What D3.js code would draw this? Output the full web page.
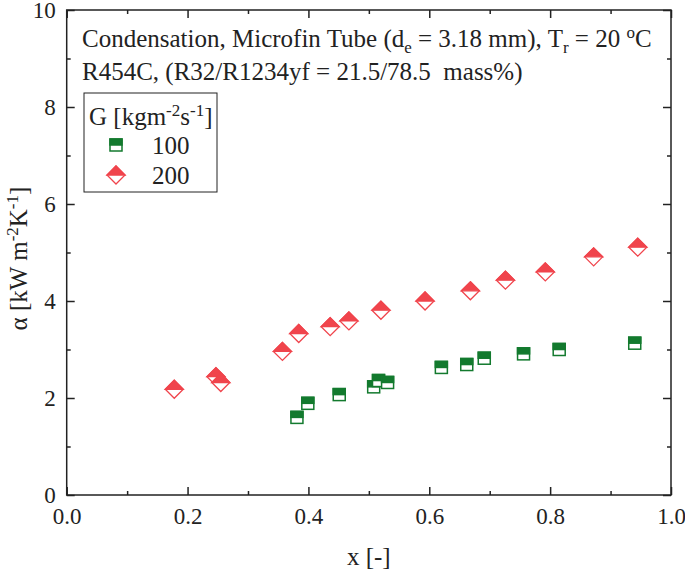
<!DOCTYPE html>
<html>
<head>
<meta charset="utf-8">
<script src="https://cdn.jsdelivr.net/npm/d3@7"></script>
<style>
  body { margin: 0; background: #fff; }
  text { font-family: "Liberation Serif", "Times New Roman", serif; fill: #222; }
</style>
</head>
<body>
<svg id="chart" width="685" height="570"></svg>
<script>
// data
const g100x = [0.381, 0.399, 0.451, 0.508, 0.516, 0.531, 0.620, 0.662, 0.691, 0.756, 0.815, 0.940];
const g100y = [1.60, 1.89, 2.07, 2.23, 2.36, 2.32, 2.63, 2.69, 2.82, 2.91, 3.00, 3.13];
const g200x = [0.178, 0.247, 0.255, 0.357, 0.384, 0.436, 0.467, 0.520, 0.593, 0.668, 0.726, 0.792, 0.872, 0.945];
const g200y = [2.18, 2.44, 2.32, 2.96, 3.33, 3.47, 3.59, 3.81, 4.00, 4.21, 4.43, 4.60, 4.91, 5.11];
const xTicks = [0, 0.2, 0.4, 0.6, 0.8, 1.0];
const yTicks = [0, 2, 4, 6, 8, 10];

const green = "#137a2e", red = "#f0444c";
const pLeft = 66.7, pRight = 671, pTop = 10, pBottom = 495;

const svg = d3.select("#chart");
const x = d3.scaleLinear().domain([0, 1]).range([pLeft, pRight]);
const y = d3.scaleLinear().domain([0, 10]).range([pBottom, pTop]);

// ticks, all pointing inward
const minorX = [0.1, 0.3, 0.5, 0.7, 0.9], minorY = [1, 3, 5, 7, 9];
const fmtX = d3.format(".1f");

svg.append("g").attr("transform", `translate(0,${pBottom})`)
  .call(d3.axisBottom(x).tickValues(xTicks).tickFormat(fmtX).tickSizeInner(-8).tickSizeOuter(0).tickPadding(13));
svg.append("g").attr("transform", `translate(0,${pBottom})`)
  .call(d3.axisBottom(x).tickValues(minorX).tickFormat("").tickSizeInner(-4).tickSizeOuter(0));
svg.append("g").attr("transform", `translate(0,${pTop})`)
  .call(d3.axisTop(x).tickValues(xTicks).tickFormat("").tickSizeInner(-8).tickSizeOuter(0));
svg.append("g").attr("transform", `translate(0,${pTop})`)
  .call(d3.axisTop(x).tickValues(minorX).tickFormat("").tickSizeInner(-4).tickSizeOuter(0));
svg.append("g").attr("transform", `translate(${pLeft},0)`)
  .call(d3.axisLeft(y).tickValues(yTicks).tickSizeInner(-8).tickSizeOuter(0).tickPadding(11));
svg.append("g").attr("transform", `translate(${pLeft},0)`)
  .call(d3.axisLeft(y).tickValues(minorY).tickFormat("").tickSizeInner(-4).tickSizeOuter(0));
svg.append("g").attr("transform", `translate(${pRight},0)`)
  .call(d3.axisRight(y).tickValues(yTicks).tickFormat("").tickSizeInner(-8).tickSizeOuter(0));
svg.append("g").attr("transform", `translate(${pRight},0)`)
  .call(d3.axisRight(y).tickValues(minorY).tickFormat("").tickSizeInner(-4).tickSizeOuter(0));

svg.selectAll(".domain").remove();
svg.selectAll(".tick line").attr("stroke", "#222").attr("stroke-width", 1.5);
svg.selectAll(".tick text").style("font-size", "23px").attr("fill", "#222")
  .style("font-family", "'Liberation Serif', serif");

svg.append("rect").attr("x", pLeft).attr("y", pTop)
  .attr("width", pRight - pLeft).attr("height", pBottom - pTop)
  .attr("fill", "none").attr("stroke", "#222").attr("stroke-width", 1.5);

// markers
function square(g, cx, cy) {
  const s = 12;
  g.append("rect").attr("x", cx - s / 2).attr("y", cy - s / 2).attr("width", s).attr("height", s)
    .attr("fill", "#fff").attr("stroke", green).attr("stroke-width", 1.5);
  g.append("rect").attr("x", cx - s / 2).attr("y", cy - s / 2).attr("width", s).attr("height", s / 2)
    .attr("fill", green).attr("stroke", green).attr("stroke-width", 1.5);
}
function diamond(g, cx, cy) {
  const r = 9;
  g.append("path").attr("d", `M${cx},${cy - r}L${cx + r},${cy}L${cx},${cy + r}L${cx - r},${cy}Z`)
    .attr("fill", "#fff").attr("stroke", red).attr("stroke-width", 1.3);
  g.append("path").attr("d", `M${cx},${cy - r}L${cx + r},${cy}L${cx - r},${cy}Z`)
    .attr("fill", red).attr("stroke", red).attr("stroke-width", 1.3);
}

const marks = svg.append("g");
g200x.forEach((v, i) => diamond(marks, x(v), y(g200y[i])));
g100x.forEach((v, i) => square(marks, x(v), y(g100y[i])));

// annotation text
const fs = "25px", ss = "17px";
const t1 = svg.append("text").attr("x", 82).attr("y", 47).style("font-size", fs);
t1.append("tspan").text("Condensation, Microfin Tube (d");
t1.append("tspan").text("e").attr("dy", 6).style("font-size", ss);
t1.append("tspan").text(" = 3.18 mm), T").attr("dy", -6);
t1.append("tspan").text("r").attr("dy", 6).style("font-size", ss);
t1.append("tspan").text(" = 20 ").attr("dy", -6);
t1.append("tspan").text("o").attr("dy", -9).style("font-size", ss);
t1.append("tspan").text("C").attr("dy", 9);

svg.append("text").attr("x", 82).attr("y", 80).style("font-size", fs)
  .attr("xml:space", "preserve").text("R454C, (R32/R1234yf = 21.5/78.5  mass%)");

// legend
svg.append("rect").attr("x", 84).attr("y", 93).attr("width", 133).attr("height", 99)
  .attr("fill", "none").attr("stroke", "#222").attr("stroke-width", 1);
const lt = svg.append("text").attr("x", 89).attr("y", 125).style("font-size", fs);
lt.append("tspan").text("G [kgm");
lt.append("tspan").text("-2").attr("dy", -9).style("font-size", ss);
lt.append("tspan").text("s").attr("dy", 9);
lt.append("tspan").text("-1").attr("dy", -9).style("font-size", ss);
lt.append("tspan").text("]").attr("dy", 9);
square(svg, 116, 145);
diamond(svg, 116, 175);
svg.append("text").attr("x", 152).attr("y", 154).style("font-size", fs).text("100");
svg.append("text").attr("x", 152).attr("y", 184).style("font-size", fs).text("200");

// axis titles
svg.append("text").attr("x", (pLeft + pRight) / 2).attr("y", 565).attr("text-anchor", "middle")
  .style("font-size", fs).text("x [-]");
const yt = svg.append("text").attr("transform", `translate(27,${(pTop + pBottom) / 2 + 6}) rotate(-90)`)
  .attr("text-anchor", "middle").style("font-size", fs);
yt.append("tspan").text("α [kW m");
yt.append("tspan").text("-2").attr("dy", -9).style("font-size", ss);
yt.append("tspan").text("K").attr("dy", 9);
yt.append("tspan").text("-1").attr("dy", -9).style("font-size", ss);
yt.append("tspan").text("]").attr("dy", 9);
</script>
</body>
</html>
